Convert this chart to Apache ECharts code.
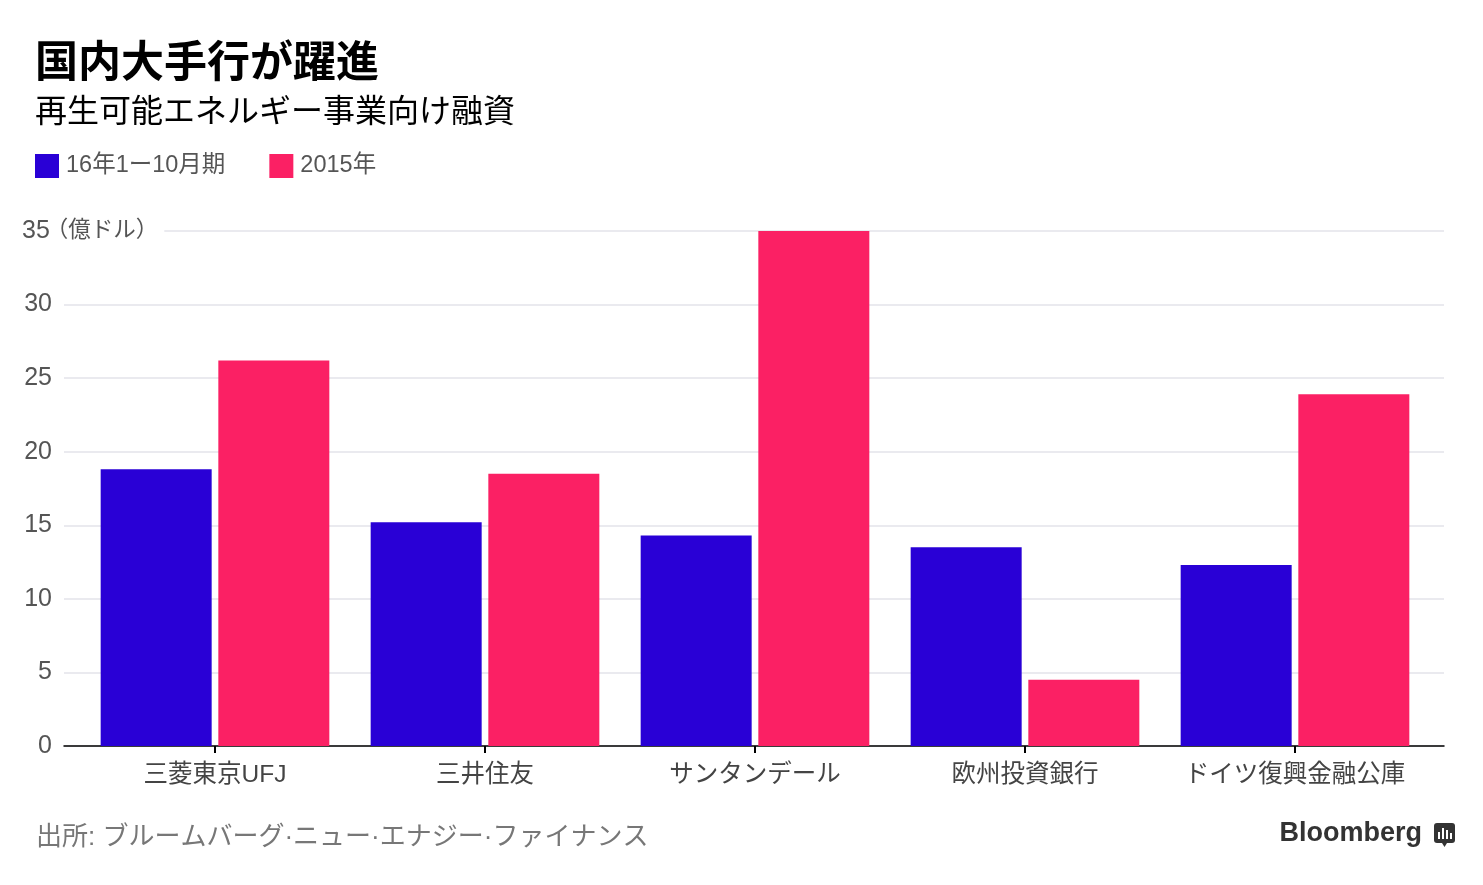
<!DOCTYPE html>
<html>
<head>
<meta charset="utf-8">
<script src="https://cdn.jsdelivr.net/npm/echarts@6/dist/echarts.min.js"></script>
<style>
html,body{margin:0;padding:0;background:#fff;}
#chart{width:1483px;height:885px;}
</style>
</head>
<body>
<div id="chart"></div>
<script>
const categories = ['三菱東京UFJ', '三井住友', 'サンタンデール', '欧州投資銀行', 'ドイツ復興金融公庫'];
const seriesNames = ['16年1ー10月期', '2015年'];
const values2016 = [18.8, 15.2, 14.3, 13.5, 12.3];
const values2015 = [26.2, 18.5, 35.0, 4.5, 23.9];
const yTicks = [0, 5, 10, 15, 20, 25, 30, 35];
const yUnit = '（億ドル）';
const titleText = '国内大手行が躍進';
const subtitleText = '再生可能エネルギー事業向け融資';
const sourceText = '出所: ブルームバーグ·ニュー·エナジー·ファイナンス';

const FONT = "'Liberation Sans', 'Noto Sans CJK JP', sans-serif";
const BLUE = '#2900d6';
const PINK = '#fb2064';
const yMin = yTicks[0], yMax = yTicks[yTicks.length - 1], yStep = yTicks[1] - yTicks[0];

const chart = echarts.init(document.getElementById('chart'), null, {renderer: 'canvas'});
chart.setOption({
  backgroundColor: '#fff',
  animation: false,
  textStyle: {fontFamily: FONT},
  title: [
    {text: titleText, left: 30, top: 39,
     textStyle: {fontSize: 43, fontWeight: 'bold', color: '#000', fontFamily: FONT}},
    {text: subtitleText, left: 30, top: 92,
     textStyle: {fontSize: 32, fontWeight: 'normal', color: '#000', fontFamily: FONT}},
    {text: sourceText, left: 31, top: 820,
     textStyle: {fontSize: 26, fontWeight: 'normal', color: '#777', fontFamily: FONT}}
  ],
  legend: {
    left: 35, top: 154, padding: 0,
    itemWidth: 24, itemHeight: 24, itemGap: 44,
    icon: 'rect',
    textStyle: {fontSize: 23.5, color: '#555', fontFamily: FONT, padding: [2, 0, 0, 2]},
    data: seriesNames
  },
  grid: [
    {left: 64, right: 39, top: 231, bottom: 139, containLabel: false},
    {left: 80, right: 53, top: 231, bottom: 139, containLabel: false}
  ],
  xAxis: [
    {gridIndex: 0, type: 'value', min: 0, max: 1,
     axisLine: {show: true, lineStyle: {color: '#000', width: 1.5}},
     axisTick: {show: false}, axisLabel: {show: false}, splitLine: {show: false}},
    {gridIndex: 1, type: 'category', data: categories,
     axisLine: {show: false},
     axisTick: {show: true, interval: 0, alignWithLabel: true, length: 7, lineStyle: {color: '#000', width: 2}},
     axisLabel: {interval: 0, hideOverlap: false, fontSize: 24.5, color: '#444', margin: 17, fontFamily: FONT},
     splitLine: {show: false}}
  ],
  yAxis: [
    {gridIndex: 0, type: 'value', min: yMin, max: yMax, interval: yStep,
     axisLine: {show: false}, axisTick: {show: false},
     splitLine: {show: true, lineStyle: {color: '#e3e3ea', width: 1.5}},
     axisLabel: {
       align: 'left', margin: 42, fontSize: 25, color: '#555', fontFamily: FONT,
       formatter: function (v) {
         if (v === yMax) return '{m|' + v + '}{u|' + yUnit + '}';
         return '{n|' + v + '}';
       },
       rich: {
         n: {width: 30, align: 'right', fontSize: 25, color: '#555', fontFamily: FONT},
         m: {align: 'left', fontSize: 25, color: '#555', fontFamily: FONT},
         u: {align: 'left', fontSize: 22.5, color: '#555', fontFamily: FONT,
             backgroundColor: '#fff', padding: [2, 6, 2, -4]}
       }
     }},
    {gridIndex: 1, type: 'value', min: yMin, max: yMax, interval: yStep,
     axisLine: {show: false}, axisTick: {show: false},
     axisLabel: {show: false}, splitLine: {show: false}}
  ],
  series: [
    {name: seriesNames[0], type: 'bar', xAxisIndex: 1, yAxisIndex: 1,
     data: values2016, barWidth: 111, barGap: '6%',
     itemStyle: {color: BLUE}},
    {name: seriesNames[1], type: 'bar', xAxisIndex: 1, yAxisIndex: 1,
     data: values2015, barWidth: 111, barGap: '6%',
     itemStyle: {color: PINK}}
  ],
  graphic: [
    {type: 'text', right: 61, top: 820,
     style: {text: 'Bloomberg', fontSize: 27, fontWeight: 'bold', fill: '#333', fontFamily: "'Liberation Sans', sans-serif"}},
    {type: 'group', right: 28, top: 823, children: [
      {type: 'rect', shape: {x: 0, y: 0, width: 21, height: 20, r: 3}, style: {fill: '#333'}},
      {type: 'polygon', shape: {points: [[8, 20], [13, 20], [10.5, 24]]}, style: {fill: '#333'}},
      {type: 'rect', shape: {x: 4, y: 9, width: 2, height: 7}, style: {fill: '#fff'}},
      {type: 'rect', shape: {x: 8, y: 5, width: 2, height: 11}, style: {fill: '#fff'}},
      {type: 'rect', shape: {x: 12, y: 7, width: 2, height: 9}, style: {fill: '#fff'}},
      {type: 'rect', shape: {x: 16, y: 10, width: 2, height: 6}, style: {fill: '#fff'}}
    ]}
  ]
});
</script>
</body>
</html>
